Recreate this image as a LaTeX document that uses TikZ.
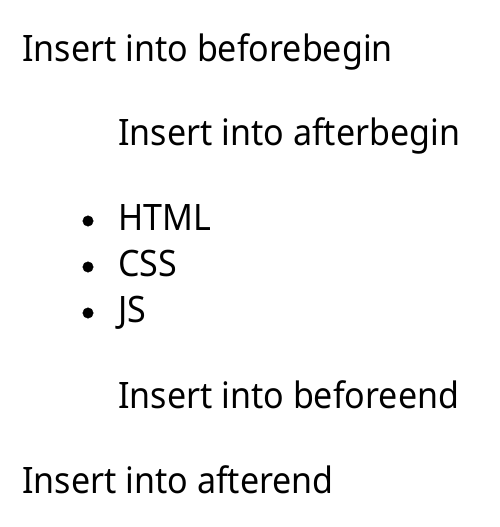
\documentclass[tikz,border=0pt]{standalone}
\usepackage{fontspec}
\setmainfont[FakeStretch=0.935]{Noto Sans}
\begin{document}
\begin{tikzpicture}
[x=1bp,y=-1bp,line/.style = {anchor=base west, inner sep=0pt, font=\fontsize{36.4bp}{40bp}\selectfont},
dot/.style = {draw, circle, fill = black, inner sep = 0pt, minimum size = 10.5bp},]
\useasboundingbox (0,0) rectangle (500,527);
\node (BB) at (22,62)[line] {Insert into beforebegin};
\node (AB) at (118,146)[line] {Insert into afterbegin};
\node (P1) at (88,221)[dot] {};
\node (P2) at (88,267)[dot] {};
\node (P3) at (88,313)[dot] {};
\node (HTML) at (118,230)[line] {HTML};
\node (CSS) at (118,276)[line] {CSS};
\node (JS) at (118,322)[line] {JS};
\node (BE) at (118,408)[line] {Insert into beforeend};
\node (AE) at (22,493)[line] {Insert into afterend};
\end{tikzpicture}
\end{document}
